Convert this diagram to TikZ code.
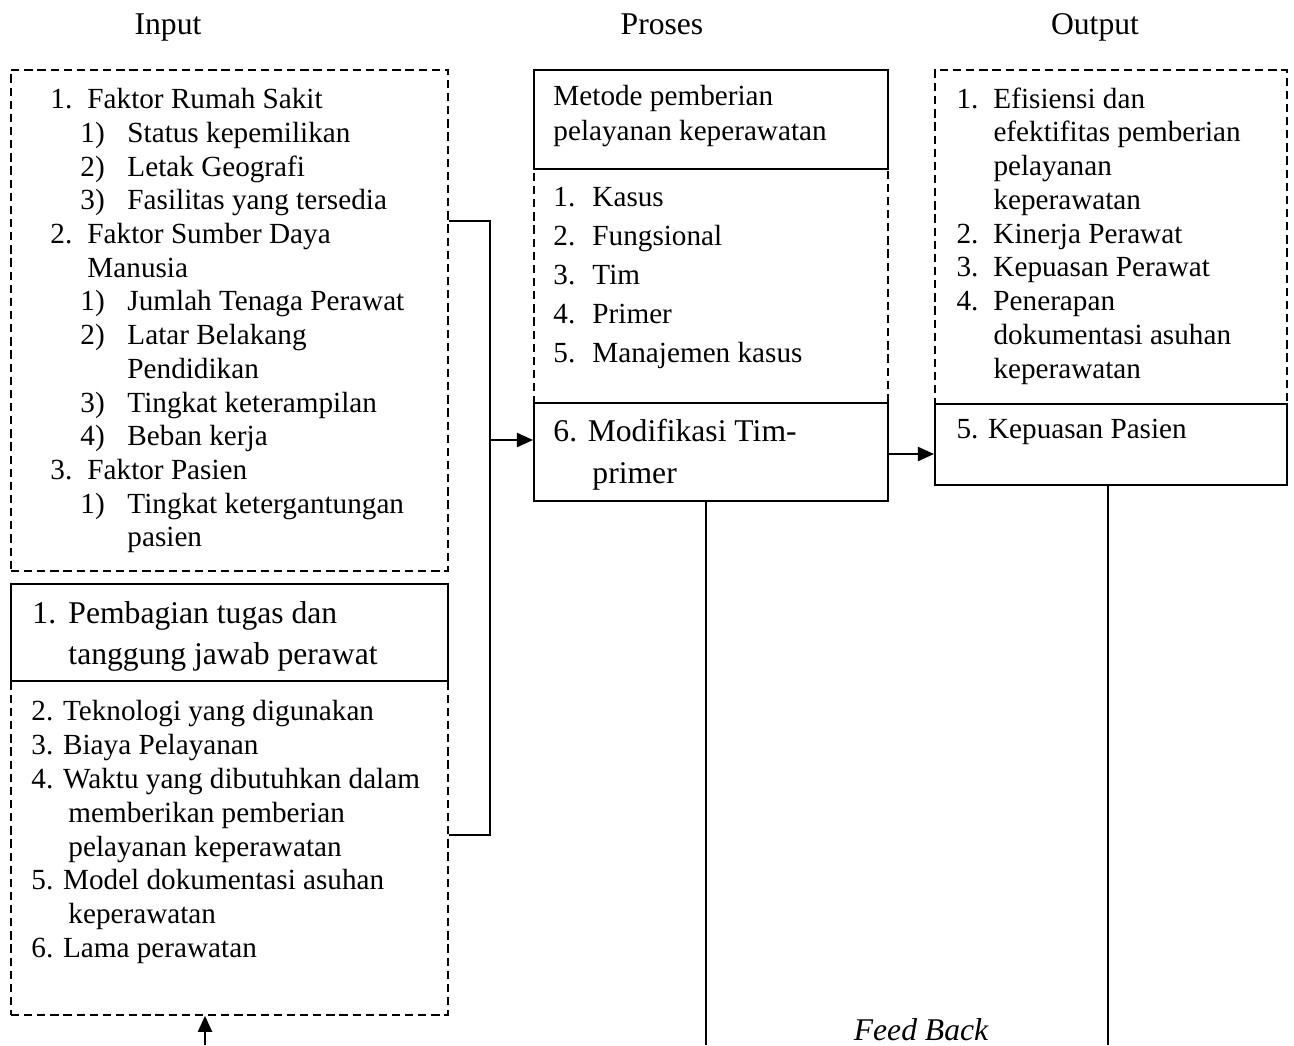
\documentclass[tikz,border=0pt]{standalone}
\usepackage{fontspec}
\setmainfont{Liberation Serif}
\usetikzlibrary{arrows.meta}
\newlength\px
\setlength\px{0.411pt}

\begin{document}
\begin{tikzpicture}[x=0.411pt, y=-0.411pt,
  sbox/.style={draw, line width=0.8pt, inner sep=0pt, anchor=north west},
  dbox/.style={draw, line width=0.75pt, dash pattern=on 3.4pt off 2pt, inner sep=0pt, anchor=north west},
  conn/.style={line width=0.8pt},
  arr/.style={conn, -{Triangle[length=6.6pt, width=5.8pt]}},
  txt/.style={inner sep=0pt, align=left, anchor=north west},
  head/.style={inner sep=0pt, anchor=base, font=\fontsize{13}{15}\selectfont}]

\useasboundingbox (0,0) rectangle (1294,1045);

% column headings
\node[head] (hin)  at (168,34)  {Input};
\node[head] (hpro) at (662,34)  {Proses};
\node[head] (hout) at (1095,34) {Output};

% ---- input column ----
\node[dbox, minimum width=437\px, minimum height=501\px] (fac) at (10,69) {};
\node[txt, font=\fontsize{12}{13.85}\selectfont] (fact) at (50,88) {%
\makebox[37\px][l]{1.}Faktor Rumah Sakit\\
\hspace{30\px}\makebox[47\px][l]{1)}Status kepemilikan\\
\hspace{30\px}\makebox[47\px][l]{2)}Letak Geografi\\
\hspace{30\px}\makebox[47\px][l]{3)}Fasilitas yang tersedia\\
\makebox[37\px][l]{2.}Faktor Sumber Daya\\
\hspace{37\px}Manusia\\
\hspace{30\px}\makebox[47\px][l]{1)}Jumlah Tenaga Perawat\\
\hspace{30\px}\makebox[47\px][l]{2)}Latar Belakang\\
\hspace{77\px}Pendidikan\\
\hspace{30\px}\makebox[47\px][l]{3)}Tingkat keterampilan\\
\hspace{30\px}\makebox[47\px][l]{4)}Beban kerja\\
\makebox[37\px][l]{3.}Faktor Pasien\\
\hspace{30\px}\makebox[47\px][l]{1)}Tingkat ketergantungan\\
\hspace{77\px}pasien};

\node[dbox, minimum width=437\px, minimum height=334\px] (low) at (10,680) {};
\node[sbox, minimum width=437\px, minimum height=97\px] (task) at (10,583) {};
\node[txt, font=\fontsize{13}{16.85}\selectfont] (taskt) at (32,601.5) {%
\makebox[36\px][l]{1.}Pembagian tugas dan\\
\hspace{36\px}tanggung jawab perawat};
\node[txt, font=\fontsize{12}{13.9}\selectfont] (lowt) at (31,700) {%
2. Teknologi yang digunakan\\
3. Biaya Pelayanan\\
4. Waktu yang dibutuhkan dalam\\
\hspace{37\px}memberikan pemberian\\
\hspace{37\px}pelayanan keperawatan\\
5. Model dokumentasi asuhan\\
\hspace{37\px}keperawatan\\
6. Lama perawatan};

% ---- process column ----
\node[dbox, minimum width=354\px, minimum height=234\px] (meth) at (533,168) {};
\node[sbox, minimum width=354\px, minimum height=99\px] (mtop) at (533,69) {};
\node[sbox, minimum width=354\px, minimum height=98\px] (mod) at (533,402) {};
\node[txt, font=\fontsize{12}{14.4}\selectfont] (mtopt) at (553,85) {%
Metode pemberian\\
pelayanan keperawatan};
\node[txt, font=\fontsize{12}{15.95}\selectfont] (metht) at (553,187) {%
\makebox[39\px][l]{1.}Kasus\\
\makebox[39\px][l]{2.}Fungsional\\
\makebox[39\px][l]{3.}Tim\\
\makebox[39\px][l]{4.}Primer\\
\makebox[39\px][l]{5.}Manajemen kasus};
\node[txt, font=\fontsize{13}{17.26}\selectfont] (modt) at (553,418.5) {%
6. Modifikasi Tim-\\
\hspace{39\px}primer};

% ---- output column ----
\node[dbox, minimum width=352\px, minimum height=334\px] (res) at (934,69) {};
\node[sbox, minimum width=352\px, minimum height=81\px] (kp) at (934,403) {};
\node[txt, font=\fontsize{12}{13.87}\selectfont] (rest) at (956,87) {%
\makebox[37\px][l]{1.}Efisiensi dan\\
\hspace{37\px}efektifitas pemberian\\
\hspace{37\px}pelayanan\\
\hspace{37\px}keperawatan\\
\makebox[37\px][l]{2.}Kinerja Perawat\\
\makebox[37\px][l]{3.}Kepuasan Perawat\\
\makebox[37\px][l]{4.}Penerapan\\
\hspace{37\px}dokumentasi asuhan\\
\hspace{37\px}keperawatan};
\node[txt, font=\fontsize{12}{13.87}\selectfont] (kpt) at (956,419) {5. Kepuasan Pasien};

% ---- connectors ----
\coordinate (busTop) at (490,221);
\coordinate (busBot) at (490,835);
\draw[conn] (fac.east |- busTop) -- (busTop) -- (busBot) -- (low.east |- busBot);
\draw[arr] (busTop |- 0,440) -- (mod.west |- 0,440);
\draw[arr] (mod.east |- 0,454) -- (kp.west |- 0,454);

% feedback lines
\coordinate (fbA) at (706,1045);
\coordinate (fbB) at (1108,1045);
\coordinate (fbIn) at (205,1045);
\draw[conn] (fbA |- mod.south) -- (fbA);
\draw[conn] (fbB |- kp.south) -- (fbB);
\draw[arr] (fbIn) -- (fbIn |- low.south);
\node[inner sep=0pt, anchor=base, font=\fontsize{13}{15}\selectfont\itshape] (fb) at (921,1040) {Feed Back};
\end{tikzpicture}
\end{document}
